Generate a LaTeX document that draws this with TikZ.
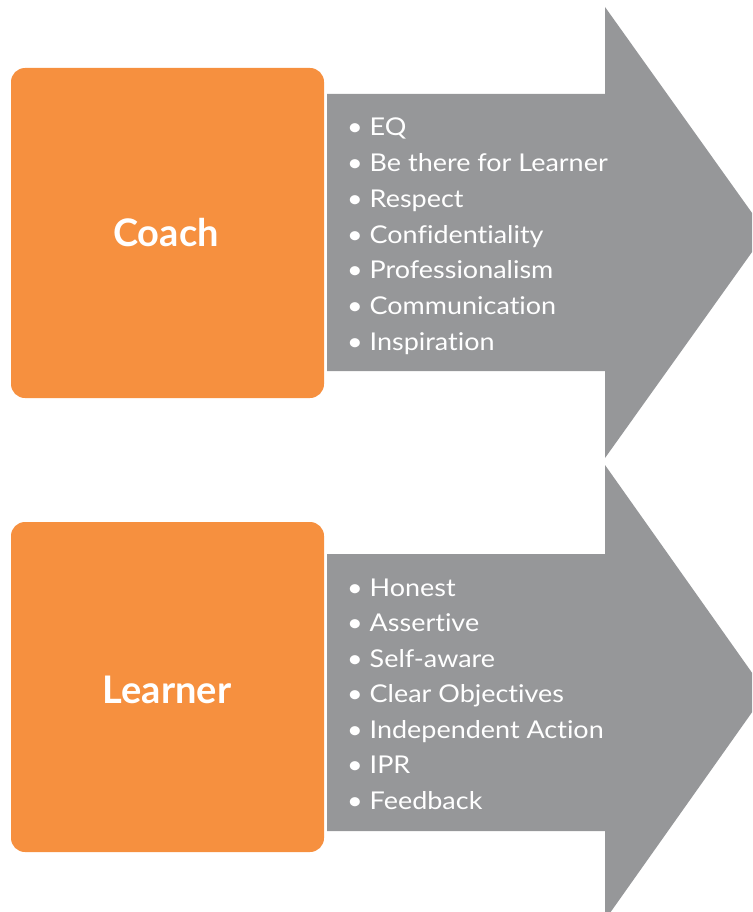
\documentclass[tikz,border=0pt]{standalone}
\usepackage{fontspec}
\setmainfont{Lato}
\newfontfamily\itemfont{Lato}[FakeStretch=1.1, Ligatures=NoCommon]
\definecolor{boxorange}{HTML}{F6903F}
\definecolor{arrowgray}{HTML}{969799}
\tikzset{
  headbox/.style={fill=boxorange, rounded corners=14pt, draw=none},
  bigarrow/.style={fill=arrowgray, draw=none},
  titletext/.style={text=white, font=\fontsize{38}{40}\selectfont\bfseries, inner sep=0pt},
  itemtext/.style={text=white, font=\itemfont\fontsize{24.5}{30}\selectfont, inner sep=0pt, anchor=base west},
}
\begin{document}
\begin{tikzpicture}[x=1pt,y=-1pt]
\useasboundingbox (0,0) rectangle (752,912);
\clip (0,0) rectangle (752,912);
% Coach row
\fill[bigarrow] (327,94) -- (605,94) -- (605,7) -- (766,232.5) -- (605,458) -- (605,371) -- (327,371) -- cycle;
\fill[headbox] (11,68) rectangle (324,398);
\node[titletext] (coach) at (166,233) {Coach};
\foreach \t [count=\i from 0] in {EQ,Be there for Learner,Respect,Confidentiality,Professionalism,Communication,Inspiration}
  \node[itemtext] (c\i) at (347,136+35.7*\i) {• \t};
% Learner row
\fill[bigarrow] (327,554) -- (605,554) -- (605,465) -- (766,692.5) -- (605,920) -- (605,831) -- (327,831) -- cycle;
\fill[headbox] (11,522) rectangle (324,852);
\node[titletext] (learner) at (167,690) {Learner};
\foreach \t [count=\i from 0] in {Honest,Assertive,Self-aware,Clear Objectives,Independent Action,IPR,Feedback}
  \node[itemtext] (l\i) at (347,596+35.5*\i) {• \t};
\end{tikzpicture}
\end{document}
